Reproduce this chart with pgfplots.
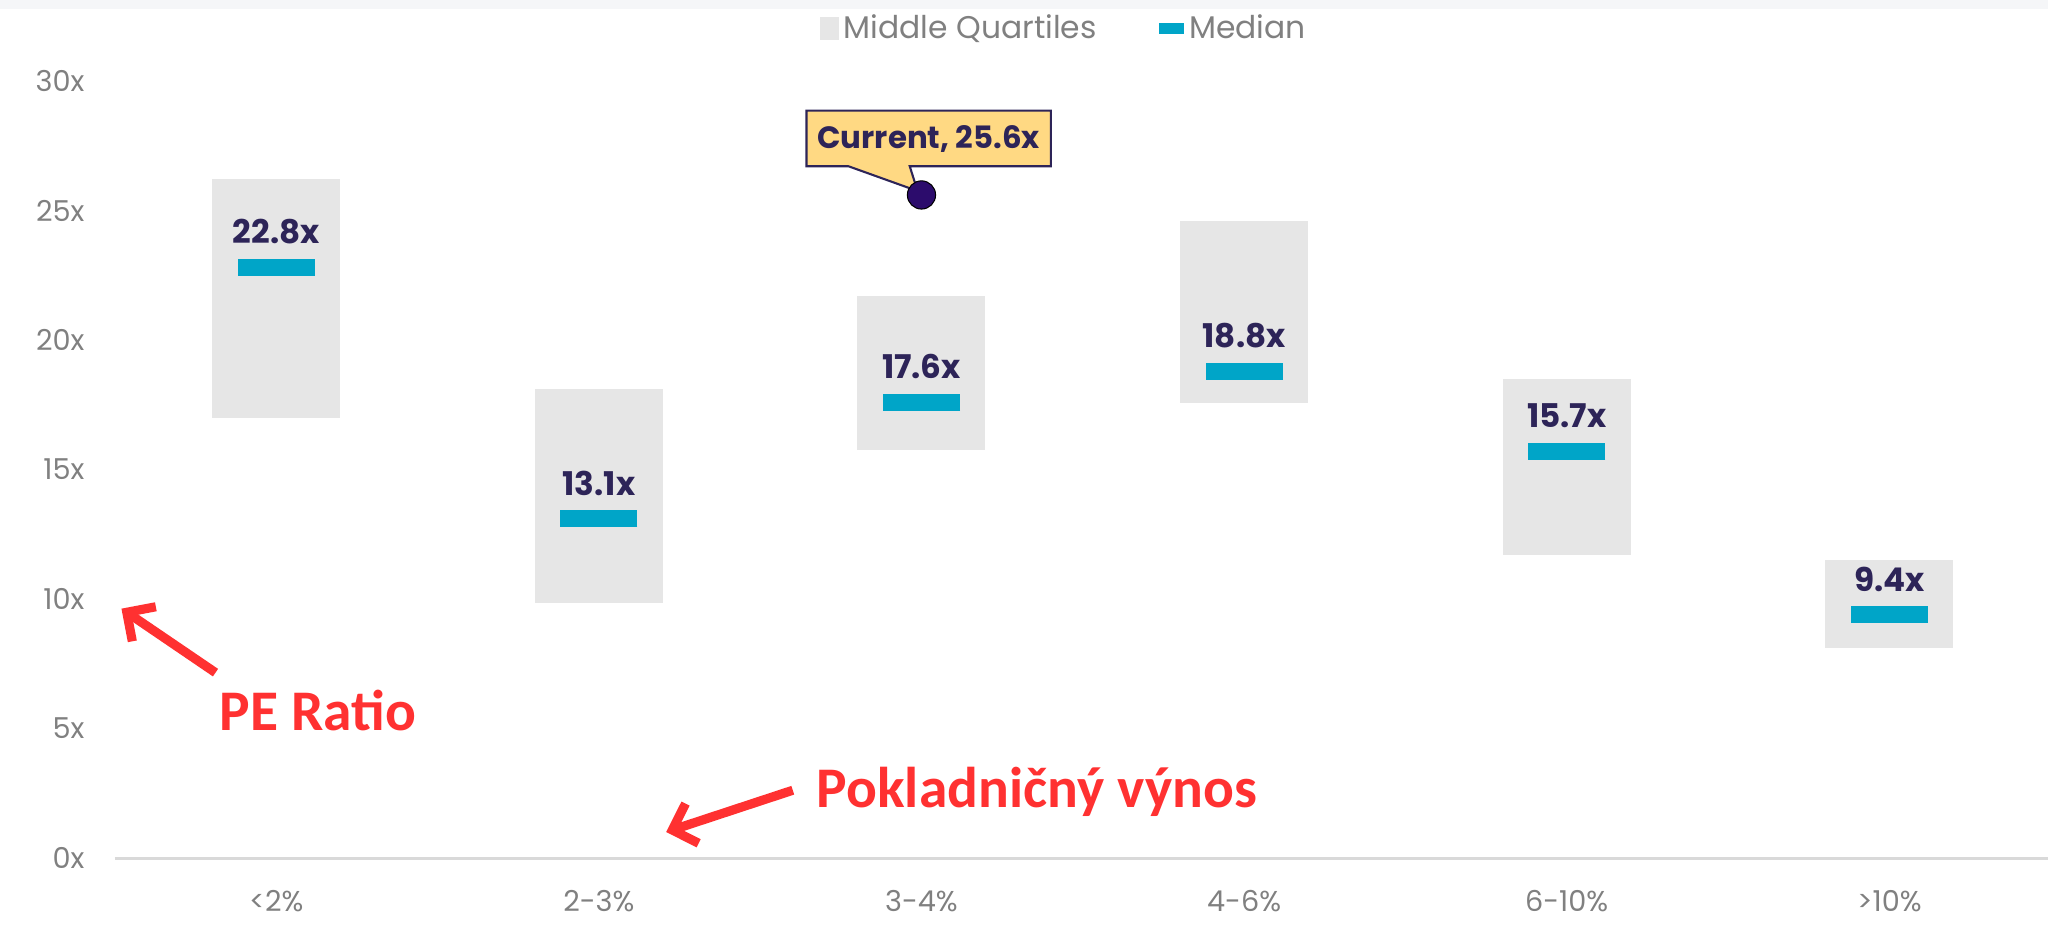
\documentclass[border=0pt]{standalone}
\usepackage{fontspec}
\setmainfont{Poppins}
\newfontfamily\carlito{Carlito}
\usepackage{pgfplots}
\usepackage{pgfplotstable}
\pgfplotsset{compat=1.18}
\usetikzlibrary{arrows.meta}
\definecolor{boxgray}{HTML}{E6E6E6}
\definecolor{medblue}{HTML}{00A5C8}
\definecolor{navy}{HTML}{2D2458}
\definecolor{dotc}{HTML}{2C0C6C}
\definecolor{callfill}{HTML}{FFD983}
\definecolor{tickgray}{HTML}{808080}
\definecolor{axgray}{HTML}{D9D9D9}
\definecolor{annred}{HTML}{FF3131}
\definecolor{topband}{HTML}{F5F6F8}

\pgfplotstableread{
x lo med hi lab
0 17.0 22.8 26.2 22.8x
1 9.85 13.1 18.1 13.1x
2 15.75 17.6 21.7 17.6x
3 17.55 18.8 24.6 18.8x
4 11.7 15.7 18.5 15.7x
5 8.1 9.4 11.5 9.4x
}\quartiles

\begin{document}
\begin{tikzpicture}
\begin{axis}[
 scale only axis, width=741pt, height=297.5pt,
 xmin=-0.5, xmax=5.5, ymin=0, ymax=30,
 clip=false,
 axis lines*=left,
 y axis line style={draw=none},
 x axis line style={draw=axgray, line width=1.2pt},
 major tick length=0pt,
 tick style={draw=none},
 xtick={0,...,5},
 xticklabels={{<2\%},{2-3\%},{3-4\%},{4-6\%},{6-10\%},{>10\%}},
 ytick={0,5,...,30},
 yticklabels={0x,5x,10x,15x,20x,25x,30x},
 tick label style={font=\fontsize{11}{13}\selectfont, text=tickgray},
 yticklabel style={anchor=east, inner sep=0pt, xshift=-11.5pt},
 xticklabel style={anchor=center, inner sep=0pt, yshift=-16.5pt},
 legend columns=-1,
 legend style={at={(axis cs:2.447,32.02)}, anchor=center, draw=none, fill=none,
   font=\fontsize{12}{14}\selectfont, text=tickgray,
   nodes={inner sep=2pt},
   /tikz/every even column/.append style={column sep=22pt}},
]
% top band
\fill[topband] (axis cs:-0.8563,33.126) rectangle (axis cs:5.5,32.77);

% middle quartile boxes
\addplot[draw=none, mark=none,
  legend image code/.code={\fill[boxgray] (0pt,-4.5pt) rectangle (7pt,4.5pt);},
  error bars/.cd, y dir=both, y explicit, error mark=none,
  error bar style={line width=49pt, draw=boxgray, solid}]
  table[x=x, y=med, y error plus expr=\thisrow{hi}-\thisrow{med},
        y error minus expr=\thisrow{med}-\thisrow{lo}] {\quartiles};
\addlegendentry{Middle Quartiles}

% medians
\addplot[only marks, mark=-, mark size=14.75pt,
  mark options={line width=6.5pt, draw=medblue},
  legend image code/.code={\fill[medblue] (0pt,-2pt) rectangle (9pt,2pt);},
  point meta=explicit symbolic,
  nodes near coords,
  nodes near coords style={anchor=base, inner sep=0pt, yshift=9pt,
     font=\bfseries\fontsize{12.5}{14}\selectfont, text=navy}]
  table[x=x, y=med, meta=lab] {\quartiles};
\addlegendentry{Median}

% callout
\draw[navy, line width=0.8pt, fill=callfill, shift={(axis cs:2,25.6)}]
  (-44pt,11pt) -- (-28pt,11pt) -- (-1.5pt,1.5pt) -- (-4.5pt,11pt) -- (49.5pt,11pt)
  -- (49.5pt,32.25pt) -- (-44pt,32.25pt) -- cycle;
\node[font=\bfseries\fontsize{11.8}{13}\selectfont, text=navy, shift={(axis cs:2,25.6)}]
  at (2.75pt,21.6pt) {Current, 25.6x};

\addplot[only marks, mark=*, mark size=5.4pt, mark options={fill=dotc, draw=none}, forget plot]
  coordinates {(2,25.6)};

% annotations
\node[anchor=base west, inner sep=0pt, font=\carlito\bfseries\fontsize{22}{26}\selectfont, text=annred]
  at (axis cs:-0.176,4.94) {PE Ratio};
\node[anchor=base west, inner sep=0pt, font=\carlito\bfseries\fontsize{22}{26}\selectfont, text=annred]
  at (axis cs:1.674,1.966) {Pokladničný výnos};
\draw[annred, line width=3.5pt, -{Straight Barb[length=8pt, width=16pt, line width=3.5pt]}]
  (axis cs:-0.1883,7.16) -- (axis cs:-0.4798,9.63);
\draw[annred, line width=3.5pt, -{Straight Barb[length=8pt, width=16pt, line width=3.5pt]}]
  (axis cs:1.601,2.62) -- (axis cs:1.2085,1.008);

\coordinate (bl) at (axis cs:-0.8563,-2.723);
\coordinate (tr) at (axis cs:5.4919,33.126);
\end{axis}
\pgfresetboundingbox
\path[use as bounding box] (bl) rectangle (tr);
\end{tikzpicture}
\end{document}
